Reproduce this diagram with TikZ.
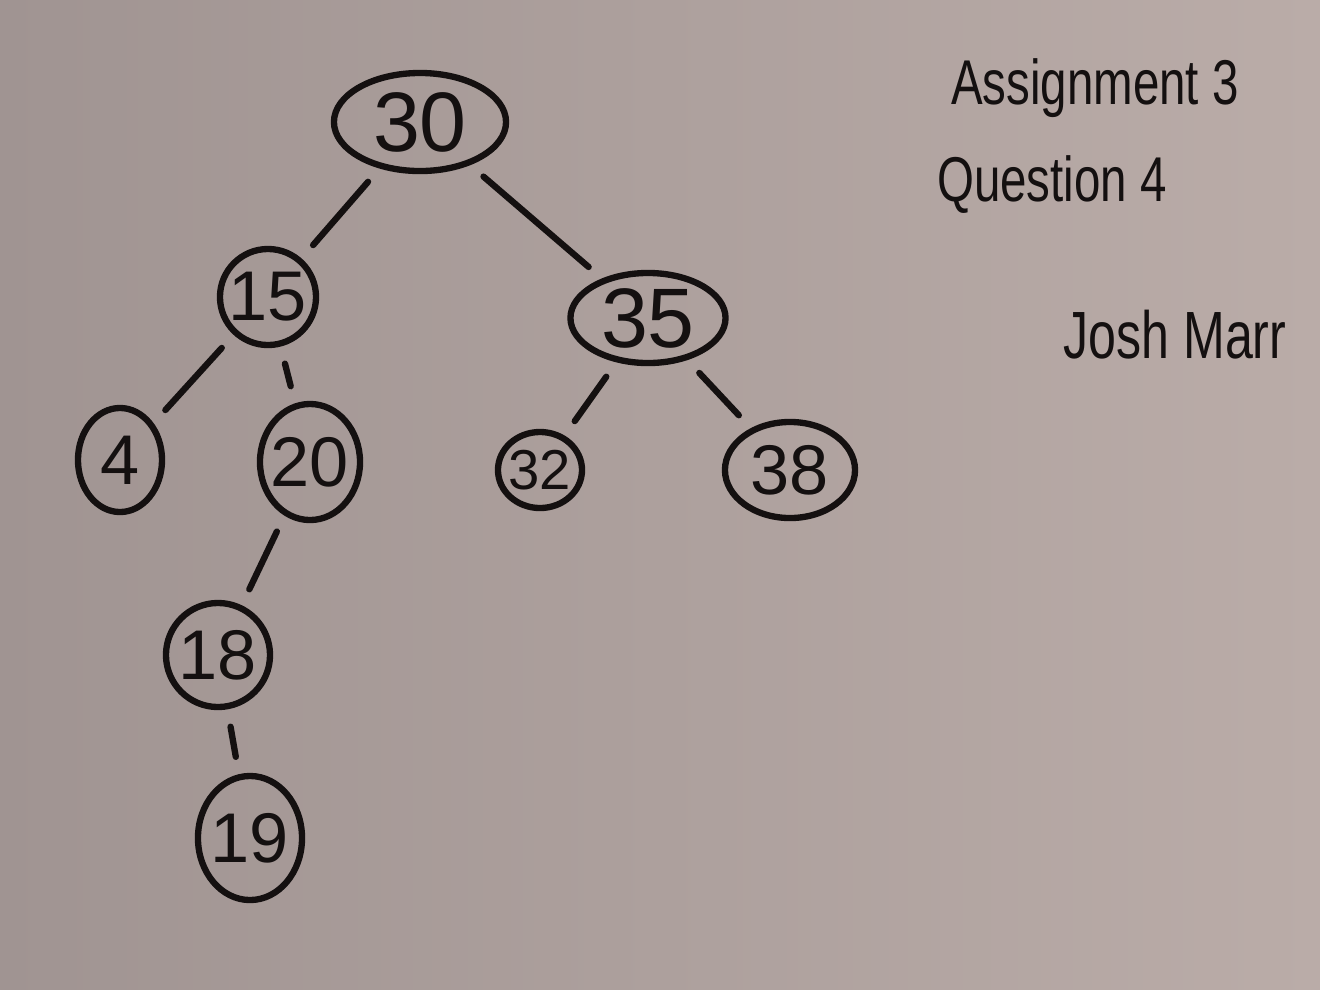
\documentclass[tikz,border=0pt]{standalone}
\usepackage{fontspec}
\setmainfont{Liberation Sans}
\usetikzlibrary{shapes.geometric, positioning}
\definecolor{paper}{RGB}{186, 172, 168}
\definecolor{paperdark}{RGB}{160, 148, 146}
\definecolor{ink}{RGB}{20, 16, 16}

\begin{document}
\begin{tikzpicture}[x=0.01cm, y=-0.01cm,
    every node/.style={text=ink, font=\fontsize{20}{24}\selectfont},
    keynode/.style={draw=ink, line width=1.8pt, ellipse, inner sep=-2pt},
    branch/.style={draw=ink, line width=1.8pt, line cap=round, shorten >=5pt, shorten <=5pt}]
    \shade[left color=paperdark, right color=paper] (0,0) rectangle (1320,990);
    \useasboundingbox (0,0) rectangle (1320,990);
    % tree nodes
    \node[keynode, minimum width=1.72cm, minimum height=0.98cm, font=\fontsize{24}{28}\selectfont] (root) at (420,122) {30};
    \node[keynode, minimum width=0.96cm, minimum height=0.96cm] (fifteen) at (268,297) {15};
    \node[keynode, minimum width=1.55cm, minimum height=0.9cm, font=\fontsize{24}{28}\selectfont] (thirtyfive) at (648,318) {35};
    \node[keynode, minimum width=0.84cm, minimum height=1.04cm] (four) at (120,460) {4};
    \node[keynode, minimum width=1.0cm, minimum height=1.16cm] (twenty) at (310,462) {20};
    \node[keynode, minimum width=0.84cm, minimum height=0.76cm, font=\fontsize{16}{20}\selectfont] (thirtytwo) at (540,470) {32};
    \node[keynode, minimum width=1.3cm, minimum height=0.96cm] (thirtyeight) at (790,470) {38};
    \node[keynode, minimum width=1.04cm, minimum height=1.04cm] (eighteen) at (218,655) {18};
    \node[keynode, minimum width=1.04cm, minimum height=1.24cm] (nineteen) at (250,838) {19};
    % branches
    \draw[branch] (root) -- (fifteen);
    \draw[branch] (root) -- (thirtyfive);
    \draw[branch] (fifteen) -- (four);
    \draw[branch] (fifteen) -- (twenty);
    \draw[branch] (thirtyfive) -- (thirtytwo);
    \draw[branch] (thirtyfive) -- (thirtyeight);
    \draw[branch] (twenty) -- (eighteen);
    \draw[branch] (eighteen) -- (nineteen);
    % heading
    \node[font=\fontsize{18}{22}\selectfont, xscale=0.75] (assign) at (1095,88) {Assignment 3};
    \node[font=\fontsize{18}{22}\selectfont, xscale=0.75] (question) at (1052,185) {Question 4};
    \node[font=\fontsize{19}{23}\selectfont, xscale=0.75] (author) at (1175,335) {Josh Marr};
\end{tikzpicture}
\end{document}
